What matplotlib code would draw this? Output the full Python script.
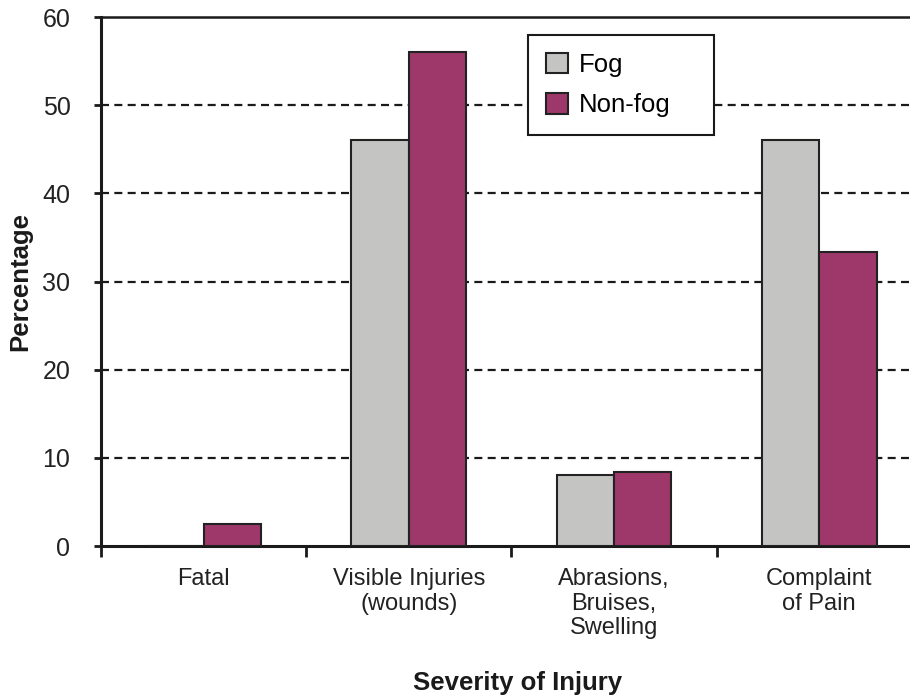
import matplotlib.pyplot as plt
import numpy as np

plt.rcParams['font.family'] = ['Liberation Sans', 'DejaVu Sans']

categories = ['Fatal', 'Visible Injuries\n(wounds)', 'Abrasions,\nBruises,\nSwelling', 'Complaint\nof Pain']
fog = [0, 46, 8.1, 46]
non_fog = [2.5, 56, 8.35, 33.3]

fig = plt.figure(figsize=(9.1, 7), dpi=100)
ax = fig.add_axes([0.111, 0.22, 0.902, 0.7557])

x = np.arange(len(categories))
w = 0.28
ax.bar(x - w / 2, fog, w, color='#c4c4c2', edgecolor='#222222', linewidth=1.5, label='Fog', zorder=3)
ax.bar(x + w / 2, non_fog, w, color='#9e386b', edgecolor='#222222', linewidth=1.5, label='Non-fog', zorder=3)

# dashed grid lines, solid one at the top
for yv in range(10, 60, 10):
    ax.axhline(yv, color='#1a1a1a', lw=1.6, ls=(0, (3.6, 2.4)), zorder=1)

ax.set_xlim(-0.5, 3.5)
ax.set_ylim(0, 60)
ax.set_yticks(range(0, 61, 10))
ax.set_xticks(np.arange(-0.5, 4, 1))
ax.set_xticklabels([])
ax.set_xticks(x, minor=True)
ax.set_xticklabels(categories, minor=True, fontsize=17, color='#222222', linespacing=1.15)
ax.tick_params(axis='x', which='minor', length=0, pad=16)
ax.tick_params(axis='x', which='major', length=8, width=2, direction='out', color='#1a1a1a')
ax.tick_params(axis='y', length=5, width=2, labelsize=18, labelcolor='#222222', color='#1a1a1a', pad=17)

for s in ['left', 'bottom', 'top']:
    ax.spines[s].set_linewidth(2.2)
    ax.spines[s].set_color('#1a1a1a')
ax.spines['top'].set_linewidth(1.8)
ax.spines['right'].set_visible(False)

ax.set_ylabel('Percentage', fontsize=18.5, fontweight='bold', labelpad=7, color='#1a1a1a')
fig.text(518 / 910, 1 - 683 / 700, 'Severity of Injury', fontsize=18.5, fontweight='bold',
         ha='center', va='center', color='#1a1a1a')

leg = ax.legend(loc='upper left', bbox_to_anchor=(0.52, 0.775, 0.2266, 0.191), mode='expand',
                fontsize=18.5, frameon=True, fancybox=False, edgecolor='#1a1a1a', framealpha=1,
                borderpad=0.7, handlelength=0.85, handleheight=0.85, handletextpad=0.43,
                labelspacing=0.62, borderaxespad=0)
leg.get_frame().set_linewidth(1.5)
leg.set_zorder(5)

fig.savefig('out.png', dpi=100)
